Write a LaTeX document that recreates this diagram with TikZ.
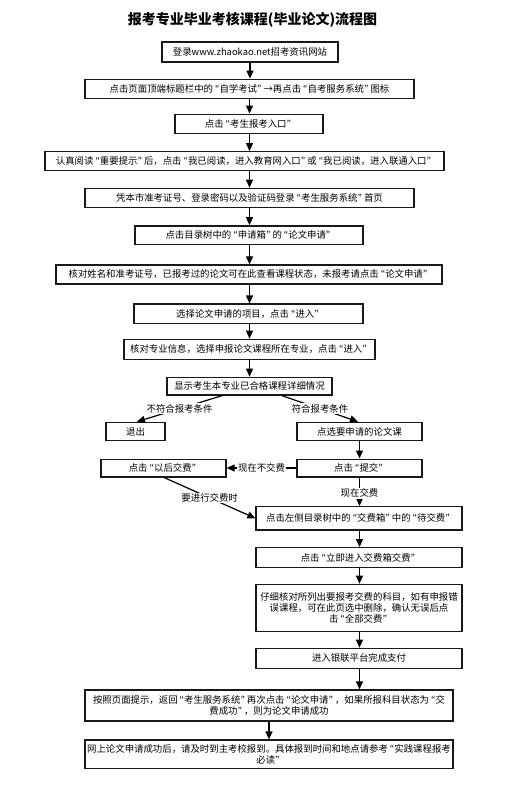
\documentclass[tikz,border=0pt]{standalone}
\usepackage{fontspec}
\setmainfont{Noto Sans CJK SC}
\newfontfamily\qfont{Noto Sans CJK JP}
\newcommand\oq{\kern2pt{\qfont “}}
\newcommand\cq{{\qfont ”}\kern2pt}
\usetikzlibrary{arrows.meta,calc}
\tikzset{
  box/.style={draw=black!90,line width=1.3pt,fill=white,inner sep=0pt,align=center,font=\fontsize{9.4}{11.3}\selectfont},
  arr/.style={line width=1.2pt,-{Triangle[length=8pt,width=7pt]}},
  lbl/.style={fill=white,inner sep=1pt,font=\fontsize{9.4}{11.3}\selectfont},
}
\begin{document}
\begin{tikzpicture}[x=1pt,y=-1pt]
\useasboundingbox (0,0) rectangle (520,788);
\node[font=\fontsize{14}{16}\selectfont\bfseries] (title) at (252.5,20) {报考专业毕业考核课程(毕业论文)流程图};
\node[box,minimum width=176pt,minimum height=20pt] (b1) at (250,52) {登录www.zhaokao.net招考资讯网站};
\node[box,minimum width=329pt,minimum height=19.5pt] (b2) at (249.5,89) {点击页面顶端标题栏中的\oq 自学考试\cq→再点击\oq 自考服务系统\cq 图标};
\node[box,minimum width=148pt,minimum height=19pt] (b3) at (249,123.7) {点击\oq 考生报考入口\cq};
\node[box,minimum width=399pt,minimum height=18.6pt] (b4) at (244.5,161) {认真阅读\oq 重要提示\cq 后，点击\oq 我已阅读，进入教育网入口\cq 或\oq 我已阅读，进入联通入口\cq};
\node[box,minimum width=329pt,minimum height=19.4pt] (b5) at (249.5,198) {凭本市准考证号、登录密码以及验证码登录\oq 考生服务系统\cq 首页};
\node[box,minimum width=228pt,minimum height=18.3pt] (b6) at (249,235) {点击目录树中的\oq 申请箱\cq 的\oq 论文申请\cq};
\node[box,minimum width=386pt,minimum height=19pt] (b7) at (249,274.5) {核对姓名和准考证号，已报考过的论文可在此查看课程状态，未报考请点击\oq 论文申请\cq};
\node[box,minimum width=229pt,minimum height=19.3pt] (b8) at (248.5,313.7) {选择论文申请的项目，点击\oq 进入\cq};
\node[box,minimum width=251pt,minimum height=20pt] (b9) at (249.5,349.3) {核对专业信息，选择申报论文课程所在专业，点击\oq 进入\cq};
\node[box,minimum width=165pt,minimum height=17.7pt] (b10) at (249.5,386.2) {显示考生本专业已合格课程详细情况};
\node[box,minimum width=59pt,minimum height=18.4pt] (exit) at (135.5,431.5) {退出};
\node[box,minimum width=125pt,minimum height=18.4pt] (pick) at (359.5,431.5) {点选要申请的论文课};
\node[box,minimum width=125pt,minimum height=17.7pt] (later) at (163.5,468) {点击\oq 以后交费\cq};
\node[box,minimum width=125pt,minimum height=17.7pt] (submit) at (359.5,468) {点击\oq 提交\cq};
\node[box,minimum width=206pt,minimum height=23.3pt] (left) at (359,518.3) {点击左侧目录树中的\oq 交费箱\cq 中的\oq 待交费\cq};
\node[box,minimum width=206pt,minimum height=20pt] (now) at (359,557.7) {点击\oq 立即进入交费箱交费\cq};
\node[box,minimum width=206pt,minimum height=47.4pt] (check) at (359,608) {仔细核对所列出要报考交费的科目，如有申报错\\误课程，可在此页选中删除，确认无误后点\\击\oq 全部交费\cq};
\node[box,minimum width=206pt,minimum height=20pt] (pay) at (359,658.3) {进入银联平台完成支付};
\node[box,minimum width=368pt,minimum height=31pt] (back) at (269,705.5) {按照页面提示，返回\oq 考生服务系统\cq 再次点击\oq 论文申请\cq，如果所报科目状态为\oq 交\\费成功\cq，则为论文申请成功};
\node[box,minimum width=368pt,minimum height=28.3pt] (online) at (269,754.2) {网上论文申请成功后，请及时到主考校报到。具体报到时间和地点请参考\oq 实践课程报考\\必读\cq};
% main column arrows
\draw[arr] (b1.south) -- (b1.south |- b2.north);
\draw[arr] (b2.south) -- (b2.south |- b3.north);
\draw[arr] ([xshift=0.5pt]b3.south) -- ([xshift=0.5pt]b3.south |- b4.north);
\draw[arr] ([xshift=0.5pt]b3.south |- b4.south) -- ([xshift=0.5pt]b3.south |- b5.north);
\draw[arr] (b5.south) -- (b5.south |- b6.north);
\draw[arr] ([xshift=0.5pt]b6.south) -- ([xshift=0.5pt]b6.south |- b7.north);
\draw[arr] ([xshift=0.5pt]b6.south |- b7.south) -- ([xshift=0.5pt]b6.south |- b8.north);
\draw[arr] (b9.north |- b8.south) -- (b9.north);
\draw[arr] (b9.south) -- (b10.north);
% branch
\draw[arr] ([xshift=-27.5pt]b10.south) -- node[lbl] {不符合报考条件} ([xshift=1.5pt]exit.north);
\draw[arr] ([xshift=32.5pt]b10.south) -- node[lbl] {符合报考条件} ([xshift=-1.5pt]pick.north);
\draw[arr] (pick.south) -- (submit.north);
\draw[arr] (submit.west) -- node[lbl] {现在不交费} (later.east);
\draw[arr] (submit.south) -- node[lbl,pos=0.55] {现在交费} (submit.south |- left.north);
\draw[arr] ([xshift=0.5pt]later.south) -- node[lbl] {要进行交费时} (left.west);
\draw[arr] (submit.south |- left.south) -- (submit.south |- now.north);
\draw[arr] (submit.south |- now.south) -- (submit.south |- check.north);
\draw[arr] (submit.south |- check.south) -- (submit.south |- pay.north);
\draw[arr] (submit.south |- pay.south) -- (submit.south |- back.north);
\draw[arr] (back.south) -- (online.north);
\end{tikzpicture}
\end{document}
